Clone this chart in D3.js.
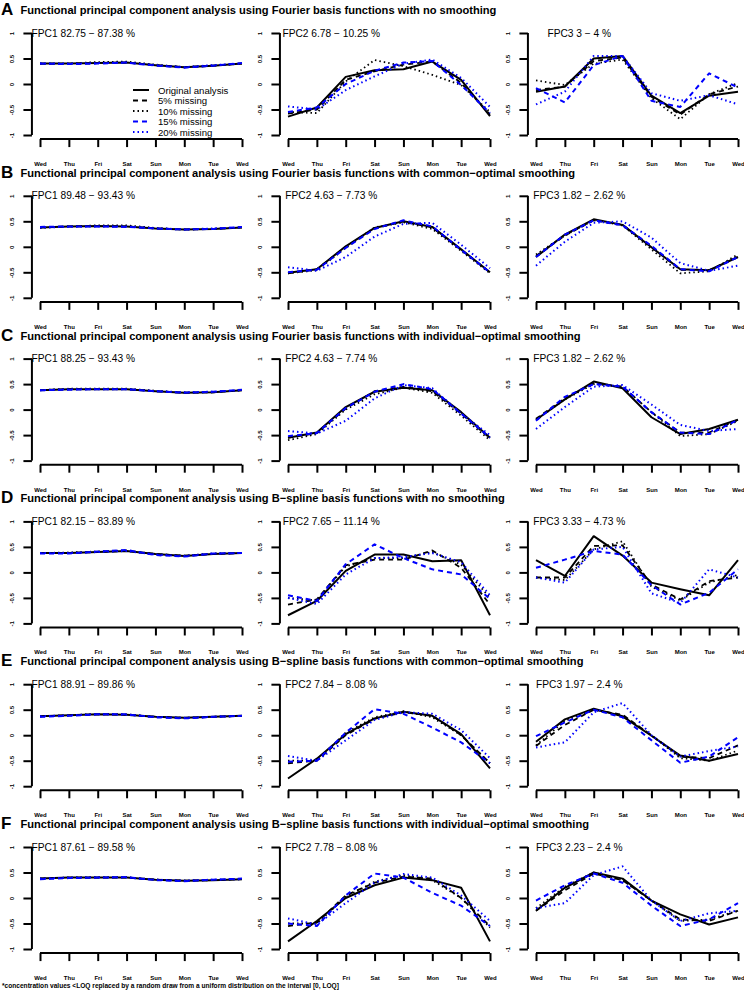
<!DOCTYPE html>
<html><head><meta charset="utf-8">
<script src="https://cdn.jsdelivr.net/npm/d3@7"></script>
<style>body{margin:0;background:#fff}svg{display:block}text{font-family:"Liberation Sans",Arial,Helvetica,sans-serif}</style>
</head><body>
<script>
const days = ["Wed","Thu","Fri","Sat","Sun","Mon","Tue","Wed"];
const seriesNames = ["Original analysis","5% missing","10% missing","15% missing","20% missing"];
const rowLetters = ["A","B","C","D","E","F"];
const rowTitles = [
 "Functional principal component analysis using Fourier basis functions with no smoothing",
 "Functional principal component analysis using Fourier basis functions with common\u2212optimal smoothing",
 "Functional principal component analysis using Fourier basis functions with individual\u2212optimal smoothing",
 "Functional principal component analysis using B\u2212spline basis functions with no smoothing",
 "Functional principal component analysis using B\u2212spline basis functions with common\u2212optimal smoothing",
 "Functional principal component analysis using B\u2212spline basis functions with individual\u2212optimal smoothing"
];
const panelLabels = [
 ["FPC1 82.75 \u2212 87.38 %","FPC2 6.78 \u2212 10.25 %","FPC3 3 \u2212 4 %"],
 ["FPC1 89.48 \u2212 93.43 %","FPC2 4.63 \u2212 7.73 %","FPC3 1.82 \u2212 2.62 %"],
 ["FPC1 88.25 \u2212 93.43 %","FPC2 4.63 \u2212 7.74 %","FPC3 1.82 \u2212 2.62 %"],
 ["FPC1 82.15 \u2212 83.89 %","FPC2 7.65 \u2212 11.14 %","FPC3 3.33 \u2212 4.73 %"],
 ["FPC1 88.91 \u2212 89.86 %","FPC2 7.84 \u2212 8.08 %","FPC3 1.97 \u2212 2.4 %"],
 ["FPC1 87.61 \u2212 89.58 %","FPC2 7.78 \u2212 8.08 %","FPC3 2.23 \u2212 2.4 %"]
];
const yTicks = [1, 0.5, 0, -0.5, -1];
const yTickLabels = ["1","0.5","0","-0.5","-1"];
const footnote = "*concentration values <LOQ replaced by a random draw from a uniform distribution on the interval [0, LOQ]";

// each panel: [original, 5%, 10%, 15%, 20%] values Wed..Wed
const A_FPC1 = [[0.40,0.40,0.41,0.42,0.37,0.33,0.36,0.40],[0.40,0.40,0.41,0.42,0.37,0.33,0.36,0.40],[0.40,0.40,0.43,0.44,0.38,0.33,0.36,0.40],[0.40,0.39,0.40,0.42,0.36,0.32,0.36,0.41],[0.40,0.40,0.41,0.42,0.37,0.33,0.37,0.40]];
const A_FPC2 = [[-0.64,-0.46,0.14,0.27,0.29,0.44,0.08,-0.63],[-0.58,-0.50,0.08,0.25,0.38,0.44,0.02,-0.60],[-0.55,-0.57,0.05,0.47,0.35,0.18,-0.02,-0.55],[-0.55,-0.46,0.00,0.26,0.42,0.45,-0.02,-0.57],[-0.44,-0.50,-0.12,0.15,0.40,0.48,0.12,-0.45]];
const A_FPC3 = [[-0.15,-0.05,0.50,0.55,-0.23,-0.57,-0.23,-0.15],[-0.12,-0.05,0.45,0.52,-0.25,-0.60,-0.20,-0.05],[0.07,-0.02,0.40,0.48,-0.28,-0.69,-0.20,0.02],[-0.08,-0.36,0.37,0.55,-0.33,-0.45,0.21,-0.07],[-0.40,-0.15,0.55,0.55,-0.18,-0.33,-0.22,-0.40]];
const B_FPC1 = [[0.38,0.40,0.41,0.40,0.36,0.34,0.35,0.38],[0.38,0.40,0.41,0.40,0.36,0.34,0.35,0.38],[0.37,0.40,0.42,0.42,0.37,0.34,0.35,0.38],[0.39,0.40,0.40,0.39,0.36,0.34,0.35,0.39],[0.38,0.39,0.40,0.40,0.36,0.34,0.36,0.38]];
const B_FPC2 = [[-0.51,-0.44,0.01,0.37,0.50,0.39,-0.05,-0.50],[-0.52,-0.44,0.00,0.36,0.50,0.38,-0.06,-0.50],[-0.52,-0.46,-0.02,0.38,0.48,0.35,-0.08,-0.52],[-0.50,-0.45,-0.02,0.35,0.52,0.40,-0.06,-0.50],[-0.40,-0.47,-0.20,0.20,0.45,0.47,0.04,-0.42]];
const B_FPC3 = [[-0.20,0.24,0.54,0.43,-0.01,-0.44,-0.46,-0.20],[-0.18,0.22,0.52,0.43,0.00,-0.45,-0.46,-0.20],[-0.15,0.22,0.52,0.42,-0.05,-0.52,-0.48,-0.15],[-0.20,0.24,0.52,0.42,0.02,-0.44,-0.48,-0.20],[-0.37,0.10,0.47,0.50,0.18,-0.32,-0.47,-0.37]];
const C_FPC1 = [[0.38,0.40,0.40,0.40,0.36,0.33,0.34,0.38],[0.38,0.40,0.40,0.40,0.36,0.33,0.34,0.38],[0.38,0.41,0.41,0.41,0.37,0.33,0.34,0.38],[0.38,0.39,0.40,0.40,0.36,0.33,0.35,0.39],[0.38,0.40,0.40,0.40,0.36,0.34,0.35,0.38]];
const C_FPC2 = [[-0.55,-0.45,0.05,0.35,0.43,0.38,-0.05,-0.55],[-0.55,-0.46,0.02,0.36,0.45,0.36,-0.08,-0.56],[-0.60,-0.48,0.00,0.30,0.43,0.33,-0.12,-0.60],[-0.52,-0.46,0.03,0.35,0.50,0.40,-0.08,-0.55],[-0.42,-0.47,-0.22,0.22,0.48,0.42,-0.08,-0.50]];
const C_FPC3 = [[-0.20,0.20,0.55,0.42,-0.15,-0.48,-0.38,-0.20],[-0.18,0.22,0.52,0.45,-0.05,-0.45,-0.45,-0.20],[-0.20,0.20,0.50,0.45,-0.05,-0.52,-0.48,-0.22],[-0.22,0.25,0.50,0.45,-0.05,-0.45,-0.48,-0.20],[-0.38,0.05,0.45,0.48,0.10,-0.30,-0.42,-0.38]];
const D_FPC1 = [[0.38,0.38,0.40,0.42,0.36,0.32,0.36,0.38],[0.38,0.38,0.40,0.42,0.36,0.33,0.36,0.38],[0.38,0.39,0.41,0.43,0.36,0.33,0.37,0.38],[0.37,0.37,0.41,0.44,0.34,0.31,0.37,0.38],[0.38,0.38,0.40,0.42,0.35,0.32,0.37,0.38]];
const D_FPC2 = [[-0.84,-0.56,0.03,0.35,0.35,0.22,0.24,-0.84],[-0.63,-0.53,0.14,0.25,0.25,0.43,0.09,-0.63],[-0.50,-0.55,0.12,0.28,0.28,0.40,0.15,-0.50],[-0.45,-0.56,0.16,0.55,0.28,0.06,-0.04,-0.52],[-0.50,-0.62,-0.04,0.28,0.30,0.38,0.20,-0.45]];
const D_FPC3 = [[0.24,-0.07,0.71,0.33,-0.20,-0.33,-0.45,0.24],[-0.10,-0.10,0.52,0.53,-0.24,-0.53,-0.17,-0.10],[-0.10,-0.15,0.45,0.61,-0.28,-0.55,-0.20,-0.05],[0.09,0.25,0.42,0.35,-0.25,-0.63,-0.40,0.06],[-0.10,-0.20,0.45,0.50,-0.41,-0.60,0.06,-0.10]];
const E_FPC1 = [[0.37,0.39,0.41,0.40,0.36,0.34,0.36,0.38],[0.37,0.39,0.41,0.40,0.36,0.34,0.36,0.38],[0.37,0.39,0.42,0.41,0.36,0.34,0.36,0.38],[0.36,0.38,0.41,0.41,0.35,0.33,0.36,0.38],[0.37,0.39,0.41,0.40,0.36,0.34,0.36,0.38]];
const E_FPC2 = [[-0.85,-0.46,0.02,0.33,0.46,0.38,0.02,-0.65],[-0.55,-0.50,0.00,0.32,0.45,0.38,0.00,-0.55],[-0.50,-0.50,0.05,0.35,0.47,0.35,0.00,-0.55],[-0.52,-0.50,0.05,0.51,0.42,0.15,-0.14,-0.55],[-0.41,-0.50,-0.10,0.30,0.45,0.42,0.10,-0.45]];
const E_FPC3 = [[-0.13,0.31,0.52,0.37,-0.01,-0.40,-0.50,-0.37],[-0.21,0.20,0.50,0.40,0.00,-0.42,-0.45,-0.20],[-0.20,0.28,0.50,0.38,0.00,-0.45,-0.50,-0.30],[-0.02,0.25,0.50,0.35,-0.10,-0.54,-0.42,-0.04],[-0.24,-0.14,0.45,0.63,0.00,-0.42,-0.31,-0.22]];
const F_FPC1 = [[0.38,0.40,0.40,0.40,0.36,0.34,0.35,0.37],[0.38,0.40,0.40,0.40,0.36,0.34,0.35,0.37],[0.38,0.40,0.41,0.41,0.36,0.34,0.35,0.37],[0.37,0.39,0.40,0.41,0.35,0.33,0.36,0.38],[0.38,0.40,0.40,0.40,0.36,0.34,0.36,0.37]];
const F_FPC2 = [[-0.85,-0.45,0.00,0.25,0.40,0.35,0.20,-0.85],[-0.55,-0.48,0.05,0.30,0.42,0.38,0.00,-0.55],[-0.50,-0.50,0.02,0.32,0.45,0.35,0.00,-0.58],[-0.50,-0.55,0.05,0.48,0.40,0.10,-0.15,-0.55],[-0.40,-0.52,-0.10,0.30,0.47,0.40,0.05,-0.45]];
const F_FPC3 = [[-0.25,0.20,0.50,0.38,-0.05,-0.32,-0.52,-0.38],[-0.25,0.15,0.48,0.35,-0.05,-0.42,-0.45,-0.25],[-0.20,0.22,0.50,0.35,-0.05,-0.45,-0.42,-0.25],[-0.05,0.25,0.48,0.30,-0.15,-0.55,-0.42,-0.10],[-0.20,-0.10,0.45,0.62,-0.05,-0.45,-0.30,-0.25]];

const panels = [
 [A_FPC1, A_FPC2, A_FPC3],
 [B_FPC1, B_FPC2, B_FPC3],
 [C_FPC1, C_FPC2, C_FPC3],
 [D_FPC1, D_FPC2, D_FPC3],
 [E_FPC1, E_FPC2, E_FPC3],
 [F_FPC1, F_FPC2, F_FPC3]
];

const lineStyles = [
 {color:"#000000", dash:null, w:2},
 {color:"#000000", dash:"5,4", w:1.8},
 {color:"#000000", dash:"1.5,3", w:1.8},
 {color:"#0000FF", dash:"5,4", w:2},
 {color:"#0000FF", dash:"1.5,3", w:2}
];

const W = 744, H = 992;
const svg = d3.select("body").append("svg").attr("width", W).attr("height", H);
svg.append("rect").attr("width", W).attr("height", H).attr("fill", "#fff");

const rowStep = 162.8;
const plotH = 102;
const panelX0 = [40, 288, 536];
const plotW = 202;

// fit title font size so row A title spans ~476 px
const probe = svg.append("text").attr("font-weight","bold").attr("font-size",10).text(rowTitles[0]);
const probeW = probe.node().getComputedTextLength();
probe.remove();
const titleFS = 10 * 476 / probeW;

rowLetters.forEach((letter, r) => {
  const top = 33 + r * rowStep;
  const tBase = 14 + r * rowStep;
  svg.append("text").attr("x", 1).attr("y", tBase + 1).attr("font-weight","bold").attr("font-size", 17).text(letter);
  svg.append("text").attr("x", 20.5).attr("y", tBase).attr("font-weight","bold").attr("font-size", titleFS).text(rowTitles[r]);

  panels[r].forEach((series, p) => {
    const x = d3.scaleLinear().domain([0, 7]).range([panelX0[p], panelX0[p] + plotW]);
    const y = d3.scaleLinear().domain([-1, 1]).range([top + plotH, top]);
    const g = svg.append("g");
    const yAxisX = x(-0.28);
    const xAxisY = y(-1.08);

    // y axis
    const ya = g.append("g").attr("transform", `translate(${yAxisX},0)`)
      .call(d3.axisLeft(y).tickValues(yTicks).tickSize(8.5).tickFormat((d,i)=>yTickLabels[i]));
    ya.select(".domain").attr("stroke","#000").attr("stroke-width",2).attr("d", `M0,${y(1)}V${y(-1)}`);
    ya.selectAll(".tick line").attr("stroke","#000").attr("stroke-width",2);
    ya.selectAll(".tick text").attr("font-size",6).attr("font-weight","bold").attr("fill","#000")
      .attr("x",null).attr("dy",null)
      .attr("transform", "translate(-19,0) rotate(-90)")
      .attr("text-anchor","middle").attr("dominant-baseline","middle");

    // x axis
    const xa = g.append("g").attr("transform", `translate(0,${xAxisY})`)
      .call(d3.axisBottom(x).tickValues(d3.range(8)).tickSize(8).tickFormat(i => days[i]));
    xa.select(".domain").attr("stroke","#000").attr("stroke-width",2).attr("d", `M${x(0)},0H${x(7)}`);
    xa.selectAll(".tick line").attr("stroke","#000").attr("stroke-width",2);
    xa.selectAll(".tick text").attr("font-size",6).attr("font-weight","bold").attr("fill","#000")
      .attr("y", 27).attr("dy", null);

    // panel label
    g.append("text").attr("x", x(1.5)).attr("y", y(1) + 3.5).attr("text-anchor","middle")
      .attr("font-size", 10.2).text(panelLabels[r][p]);

    // lines
    const line = d3.line().x((d,i)=>x(i)).y(d=>y(d));
    series.forEach((vals, k) => {
      const st = lineStyles[k];
      g.append("path").datum(vals).attr("d", line).attr("fill","none")
        .attr("stroke", st.color).attr("stroke-width", st.w)
        .attr("stroke-dasharray", st.dash).attr("stroke-linejoin","round");
    });

    // legend in first panel
    if (r === 0 && p === 0) {
      const lg = svg.append("g");
      seriesNames.forEach((name, k) => {
        const ly = 90 + k * 10.5;
        const st = lineStyles[k];
        lg.append("line").attr("x1",133).attr("x2",149).attr("y1",ly).attr("y2",ly)
          .attr("stroke",st.color).attr("stroke-width",st.w).attr("stroke-dasharray",st.dash);
        lg.append("text").attr("x",158).attr("y",ly+3.5).attr("font-size",9.6).text(name);
      });
    }
  });
});

svg.append("text").attr("x", 2).attr("y", 988).attr("font-size", 6.6).attr("font-weight","bold").text(footnote);
</script>
</body></html>
